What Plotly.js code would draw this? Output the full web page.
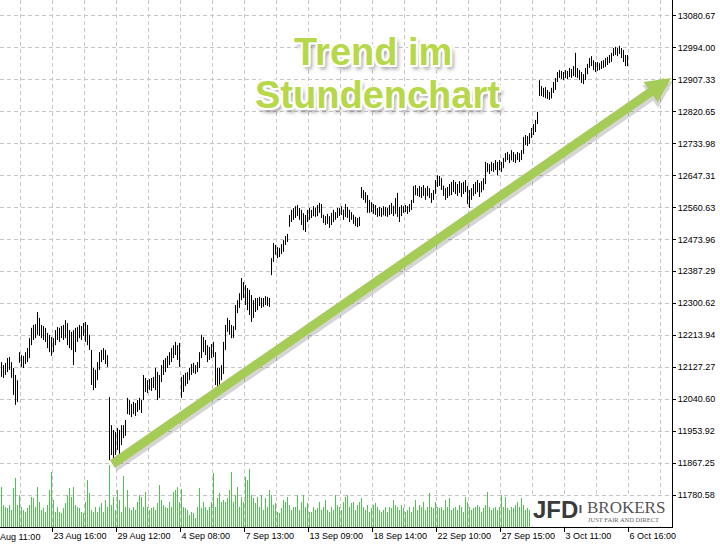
<!DOCTYPE html>
<html><head><meta charset="utf-8">
<script src="https://cdn.plot.ly/plotly-3.0.1.min.js"></script>
<style>html,body{margin:0;padding:0;background:#fff}#chart{width:720px;height:547px}</style>
</head><body><div id="chart"></div>
<script>
// Hourly OHLC bars (index = bar number)
const opens=[12133,12114,12125,12120,12147,12133,12106,12065,12044,12147,
12152,12141,12152,12160,12174,12201,12223,12228,12234,12255,
12228,12234,12215,12206,12187,12201,12174,12196,12215,12228,
12220,12228,12215,12242,12201,12187,12206,12174,12215,12228,
12223,12234,12228,12206,12201,12168,12092,12079,12106,12125,
12152,12160,12168,12147,12044,11903,11930,11903,11935,11916,
11943,11957,11962,12006,12033,12011,12006,12025,12011,12027,
12033,12052,12087,12071,12082,12076,12087,12092,12114,12052,
12092,12120,12133,12141,12147,12160,12174,12179,12185,12168,
12098,12065,12092,12103,12098,12114,12125,12130,12120,12133,
12160,12201,12179,12174,12152,12168,12174,12160,12092,12076,
12098,12114,12179,12228,12250,12228,12215,12234,12282,12296,
12315,12350,12337,12309,12296,12282,12269,12296,12288,12304,
12309,12296,12309,12315,12304,12385,12418,12451,12440,12432,
12445,12456,12467,12478,12513,12532,12548,12554,12559,12554,
12548,12527,12510,12527,12548,12543,12551,12559,12546,12559,
12564,12540,12527,12521,12532,12516,12537,12543,12537,12554,
12548,12554,12537,12559,12543,12532,12540,12527,12521,12513,
12602,12594,12592,12581,12554,12570,12559,12564,12554,12543,
12554,12540,12556,12548,12543,12559,12564,12548,12570,12554,
12540,12559,12554,12562,12551,12564,12575,12608,12602,12608,
12597,12608,12613,12592,12608,12597,12586,12602,12624,12640,
12630,12619,12602,12592,12608,12613,12621,12619,12608,12613,
12621,12602,12619,12608,12581,12592,12602,12613,12619,12624,
12602,12619,12630,12673,12668,12662,12676,12668,12681,12662,
12678,12668,12689,12700,12703,12689,12708,12695,12700,12703,
12695,12711,12744,12749,12738,12754,12771,12782,12792,12866,
12879,12874,12868,12866,12863,12857,12879,12890,12906,12920,
12925,12917,12922,12917,12928,12922,12931,12933,12928,12920,
12912,12906,12912,12928,12944,12960,12955,12944,12939,12944,
12947,12952,12950,12958,12960,12969,12974,12988,12982,12988,
12990,12977,12966,12955];
const highs=[12141,12133,12139,12152,12155,12141,12125,12106,12092,12168,
12160,12158,12168,12179,12206,12234,12242,12244,12277,12261,
12242,12239,12234,12220,12215,12209,12206,12228,12236,12234,
12239,12242,12255,12247,12228,12223,12228,12234,12236,12242,
12239,12247,12250,12242,12215,12174,12125,12120,12141,12168,
12174,12179,12174,12160,12046,11970,11957,11951,11962,11957,
11970,11970,11984,12044,12038,12027,12033,12030,12038,12044,
12038,12106,12098,12092,12095,12098,12101,12125,12114,12106,
12133,12147,12152,12158,12168,12179,12187,12196,12187,12193,
12101,12106,12112,12114,12125,12136,12139,12133,12141,12168,
12215,12209,12201,12187,12182,12190,12196,12168,12125,12125,
12133,12196,12242,12261,12255,12242,12239,12296,12309,12328,
12369,12358,12350,12342,12337,12323,12309,12315,12315,12318,
12315,12315,12320,12318,12315,12423,12464,12459,12453,12451,
12461,12472,12483,12489,12540,12554,12559,12564,12567,12559,
12554,12545,12540,12554,12559,12554,12564,12559,12567,12573,
12570,12540,12537,12543,12537,12546,12554,12548,12559,12559,
12564,12554,12570,12562,12554,12548,12540,12535,12532,12535,
12616,12608,12602,12594,12581,12575,12570,12567,12559,12562,
12559,12564,12562,12559,12567,12573,12564,12586,12600,12562,
12567,12564,12567,12564,12570,12581,12619,12621,12613,12619,
12616,12621,12613,12619,12613,12600,12608,12635,12648,12646,
12640,12619,12613,12616,12624,12630,12635,12630,12624,12632,
12627,12630,12635,12619,12608,12613,12624,12630,12635,12627,
12632,12640,12684,12681,12678,12684,12681,12689,12684,12689,
12684,12695,12708,12711,12705,12716,12711,12705,12711,12708,
12716,12752,12757,12754,12762,12776,12787,12798,12820,12906,
12890,12885,12887,12879,12874,12885,12901,12912,12928,12933,
12931,12928,12933,12931,12939,12936,12944,12980,12939,12933,
12928,12922,12939,12950,12966,12971,12960,12955,12955,12952,
12958,12960,12966,12969,12974,12980,12993,12996,12993,12999,
12993,12988,12974,12974];
const lows=[12101,12098,12106,12114,12120,12098,12052,12025,12033,12139,
12128,12125,12136,12141,12152,12187,12201,12206,12215,12212,
12206,12201,12196,12179,12168,12158,12168,12187,12201,12196,
12206,12201,12206,12187,12179,12174,12133,12168,12196,12206,
12201,12212,12196,12187,12174,12079,12065,12071,12092,12120,
12141,12147,12136,12128,11875,11889,11870,11889,11903,11886,
11916,11935,11941,12000,11998,11992,12000,11995,12006,12011,
12003,12038,12060,12057,12065,12063,12071,12065,12038,12044,
12087,12106,12114,12125,12133,12141,12152,12160,12147,12128,
12044,12060,12076,12082,12092,12106,12112,12109,12114,12125,
12152,12168,12160,12141,12147,12152,12155,12079,12057,12071,
12092,12109,12174,12223,12215,12206,12206,12228,12274,12288,
12309,12315,12296,12282,12269,12250,12261,12277,12282,12293,
12288,12291,12296,12293,12291,12377,12413,12432,12423,12426,
12434,12440,12459,12467,12508,12521,12527,12532,12537,12527,
12513,12499,12494,12521,12527,12532,12537,12535,12537,12546,
12532,12518,12513,12516,12505,12513,12521,12527,12532,12537,
12540,12527,12535,12532,12521,12527,12516,12510,12507,12510,
12586,12581,12573,12546,12546,12548,12543,12540,12535,12537,
12535,12540,12537,12535,12540,12543,12537,12543,12535,12521,
12537,12546,12548,12543,12548,12554,12573,12594,12592,12589,
12586,12592,12581,12592,12586,12573,12581,12597,12616,12619,
12608,12592,12581,12586,12592,12594,12602,12597,12592,12600,
12589,12597,12602,12570,12559,12581,12592,12597,12602,12589,
12602,12608,12624,12657,12651,12659,12657,12662,12648,12662,
12657,12668,12684,12689,12681,12689,12684,12681,12689,12684,
12689,12706,12730,12727,12733,12749,12757,12765,12787,12863,
12863,12860,12857,12855,12852,12857,12871,12879,12901,12912,
12909,12906,12912,12909,12914,12912,12917,12914,12912,12906,
12898,12895,12906,12922,12939,12944,12933,12928,12931,12933,
12936,12939,12942,12947,12952,12955,12971,12974,12971,12977,
12966,12955,12944,12944];
const closes=[12114,12125,12120,12147,12133,12106,12065,12044,12079,12152,
12141,12152,12160,12174,12201,12223,12228,12234,12255,12228,
12234,12215,12206,12187,12201,12174,12196,12215,12228,12220,
12228,12215,12242,12201,12187,12206,12174,12215,12228,12223,
12234,12228,12206,12201,12179,12092,12079,12106,12125,12152,
12160,12168,12147,12133,11903,11930,11903,11935,11916,11943,
11957,11962,11979,12033,12011,12006,12025,12011,12027,12033,
12017,12087,12071,12082,12076,12087,12092,12114,12052,12092,
12120,12133,12141,12147,12160,12174,12179,12185,12168,12141,
12060,12092,12103,12098,12114,12125,12130,12120,12133,12160,
12201,12179,12174,12152,12168,12174,12160,12092,12076,12098,
12114,12179,12228,12250,12228,12215,12234,12282,12296,12315,
12350,12337,12309,12296,12282,12269,12296,12288,12304,12309,
12296,12309,12315,12304,12309,12418,12451,12440,12432,12445,
12456,12467,12478,12472,12532,12548,12554,12559,12554,12548,
12527,12510,12527,12548,12543,12551,12559,12546,12559,12564,
12540,12527,12521,12532,12516,12537,12543,12537,12554,12548,
12554,12537,12559,12543,12532,12540,12527,12521,12513,12527,
12594,12592,12581,12554,12570,12559,12564,12554,12543,12554,
12540,12556,12548,12543,12559,12564,12548,12570,12554,12540,
12559,12554,12562,12551,12564,12575,12608,12602,12608,12597,
12608,12613,12592,12608,12597,12586,12602,12624,12640,12630,
12619,12602,12592,12608,12613,12621,12619,12608,12613,12621,
12602,12619,12608,12581,12592,12602,12613,12619,12624,12602,
12619,12630,12673,12668,12662,12676,12668,12681,12662,12678,
12668,12689,12700,12703,12689,12708,12695,12700,12703,12695,
12711,12744,12749,12738,12754,12771,12782,12792,12811,12879,
12874,12868,12866,12863,12857,12879,12890,12906,12920,12925,
12917,12922,12917,12928,12922,12931,12933,12928,12920,12912,
12906,12912,12928,12944,12960,12955,12944,12939,12944,12947,
12952,12950,12958,12960,12969,12974,12988,12982,12988,12990,
12977,12966,12955,12950];
// Tick volume per bar (bars hidden behind the logo are not listed)
const volumes=[2020,1100,1020,930,1100,850,1930,2430,1100,1600,
1020,850,770,930,1100,1520,1430,1020,2020,1270,
850,930,770,1100,1850,2770,1350,770,1020,770,
680,930,1180,1600,1930,1520,2020,1100,1020,930,
770,680,1270,2350,1680,850,770,1020,770,1020,
1180,770,1350,1020,3100,1100,1520,850,1850,1350,
770,2550,1020,1850,930,850,1020,850,1270,1600,
1520,1020,1770,1020,850,930,1020,850,1180,2100,
1350,1100,1020,930,1270,1020,1770,1850,2020,1270,
1880,1020,930,850,600,770,680,430,1020,1930,
930,1270,1020,850,1020,1270,2680,1020,1430,1680,
1270,1350,1270,1430,1850,2770,1270,1600,2020,1020,
1520,1270,2520,2350,2880,1600,1430,1180,1520,1020,
1600,850,1430,1020,1850,1600,1100,1180,770,680,
930,1350,1270,1520,1100,850,1020,1020,1600,850,
1270,1600,1020,1180,770,770,1020,850,930,1270,
850,1020,1350,850,770,1020,850,1600,1100,1020,
850,1270,1520,1600,1020,1180,1270,850,1100,1270,
1430,1020,850,1100,770,930,1100,1180,1020,850,
770,850,1020,770,1020,930,1350,1100,1020,850,
1100,930,770,850,1020,770,1020,1350,850,1100,
1020,1270,850,1020,1680,1020,930,1270,1020,930,
1020,850,1350,1020,1430,850,930,1020,850,1100,
1020,770,1520,1270,1020,850,930,1020,1100,1020,
770,930,1100,1770,1020,850,930,1020,850,1020,
1600,1020,1520,930,850,1020,930,1100,1270,1020,
1430,1100,850,930,850];
const xTickLabels=["23 Aug 16:00","29 Aug 12:00","4 Sep 08:00","7 Sep 13:00","13 Sep 09:00","18 Sep 14:00","22 Sep 10:00","27 Sep 15:00","3 Oct 11:00","6 Oct 16:00"];
const firstXLabel="18 Aug 11:00";
const yTickValues=[11780.58,11867.25,11953.92,12040.60,12127.27,12213.94,12300.62,12387.29,12473.96,12560.63,12647.31,12733.98,12820.65,12907.33,12994.00,13080.67];
const titleLines=["Trend im","Stundenchart"];

// ---- layout helpers (pixel -> paper) ----
const plotR=672, plotB=527;
const px=x=>x/plotR, py=y=>(plotB-y)/plotB;
const barIdx=opens.map((_,i)=>i);
const volIdx=volumes.map((_,i)=>i);
const majorTicks=xTickLabels.map((_,k)=>25.5+32*k);
const gridTicks=[]; for(let v=9.5; v<335; v+=16) gridTicks.push(v);
const tickFont={family:'"Liberation Sans", Arial, sans-serif',size:9,color:'#000'};
const gridStyle={gridcolor:'#c6c6c6',griddash:'4px,3px',gridwidth:1};
const volGreen='#52c052';

const traces=[
 {type:'bar',x:volIdx,y:volumes,yaxis:'y2',width:0.5,opacity:1,
  marker:{color:volGreen,opacity:1,line:{width:0,color:volGreen}},hoverinfo:'skip'},
 {type:'ohlc',x:barIdx,open:opens,high:highs,low:lows,close:closes,tickwidth:0.25,
  increasing:{line:{color:'#000',width:1}},decreasing:{line:{color:'#000',width:1}},hoverinfo:'skip'}
];

const titleShadow='-2px -2px 0 #fff, 2px -2px 0 #fff, -2px 2px 0 #fff, 2px 2px 0 #fff, 0 -2px 0 #fff, 0 2px 0 #fff, -2px 0 0 #fff, 2px 0 0 #fff, 3px 4px 4px rgba(0,0,0,0.45)';
const titleFont={family:'"Liberation Sans", Arial, sans-serif',size:38,color:'#b6d84a',weight:'bold',shadow:titleShadow};

const layout={
 width:720,height:547,margin:{l:0,r:48,t:0,b:20},
 paper_bgcolor:'#fff',plot_bgcolor:'#fff',showlegend:false,hovermode:false,
 bargap:0,
 xaxis:Object.assign({type:'linear',range:[-0.75,335.25],rangeslider:{visible:false},
   tickmode:'array',tickvals:majorTicks,ticktext:xTickLabels,ticks:'outside',ticklen:4,tickcolor:'#000',
   ticklabelposition:'outside right',tickfont:tickFont,showline:true,linecolor:'#000',linewidth:1,
   showgrid:true,zeroline:false,fixedrange:true,
   minor:Object.assign({tickmode:'array',tickvals:gridTicks,showgrid:true,ticks:''},gridStyle)},gridStyle),
 yaxis:Object.assign({side:'right',range:[11693.78,13123.26],tickmode:'array',tickvals:yTickValues,tickformat:'.2f',
   ticks:'outside',ticklen:3,tickcolor:'#000',tickfont:tickFont,showline:true,linecolor:'#000',linewidth:1,
   showgrid:true,zeroline:false,fixedrange:true},gridStyle),
 yaxis2:{overlaying:'y',range:[0,26350],visible:false,showgrid:false,zeroline:false,fixedrange:true},
 shapes:[
  {type:'rect',xref:'paper',yref:'paper',x0:px(530),x1:px(671),y0:py(526),y1:py(496),fillcolor:'#fff',line:{width:0},layer:'above'},
  {type:'rect',xref:'paper',yref:'paper',x0:px(579.5),x1:px(581.5),y0:py(513),y1:py(505),fillcolor:'#555',line:{width:0},layer:'above'}
 ],
 annotations:[
  {xref:'paper',yref:'paper',x:px(-13),y:py(537),xanchor:'left',yanchor:'middle',text:firstXLabel,showarrow:false,font:tickFont,borderpad:0},
  // arrow shadow
  {xref:'paper',yref:'paper',x:px(673),y:py(81),ax:-560,ay:387,axref:'pixel',ayref:'pixel',text:'',showarrow:true,
   arrowhead:2,arrowsize:0.55,arrowwidth:10,arrowcolor:'rgba(70,70,70,0.22)'},
  // arrow
  {xref:'paper',yref:'paper',x:px(671),y:py(78),ax:-560,ay:387,axref:'pixel',ayref:'pixel',text:'',showarrow:true,
   arrowhead:2,arrowsize:0.55,arrowwidth:9,arrowcolor:'#a6cc58'},
  {xref:'paper',yref:'paper',x:px(373),y:py(52),xanchor:'center',yanchor:'middle',text:titleLines[0],showarrow:false,font:titleFont},
  {xref:'paper',yref:'paper',x:px(377),y:py(95),xanchor:'center',yanchor:'middle',text:titleLines[1],showarrow:false,font:titleFont},
  // logo
  {xref:'paper',yref:'paper',x:px(532),y:py(509),xanchor:'left',yanchor:'middle',text:'JFD',showarrow:false,borderpad:0,
   font:{family:'"Liberation Sans", Arial, sans-serif',size:24,color:'#3a3a3a',weight:'bold'}},
  {xref:'paper',yref:'paper',x:px(586),y:py(507),xanchor:'left',yanchor:'middle',text:'BROKERS',showarrow:false,borderpad:0,
   font:{family:'"Liberation Serif", "Times New Roman", serif',size:17,color:'#555'}},
  {xref:'paper',yref:'paper',x:px(587),y:py(519.5),xanchor:'left',yanchor:'middle',text:'JUST FAIR AND DIRECT',showarrow:false,borderpad:0,
   font:{family:'"Liberation Serif", "Times New Roman", serif',size:6.5,color:'#666'}}
 ]
};
Plotly.newPlot('chart',traces,layout,{staticPlot:true,displayModeBar:false});
</script></body></html>
